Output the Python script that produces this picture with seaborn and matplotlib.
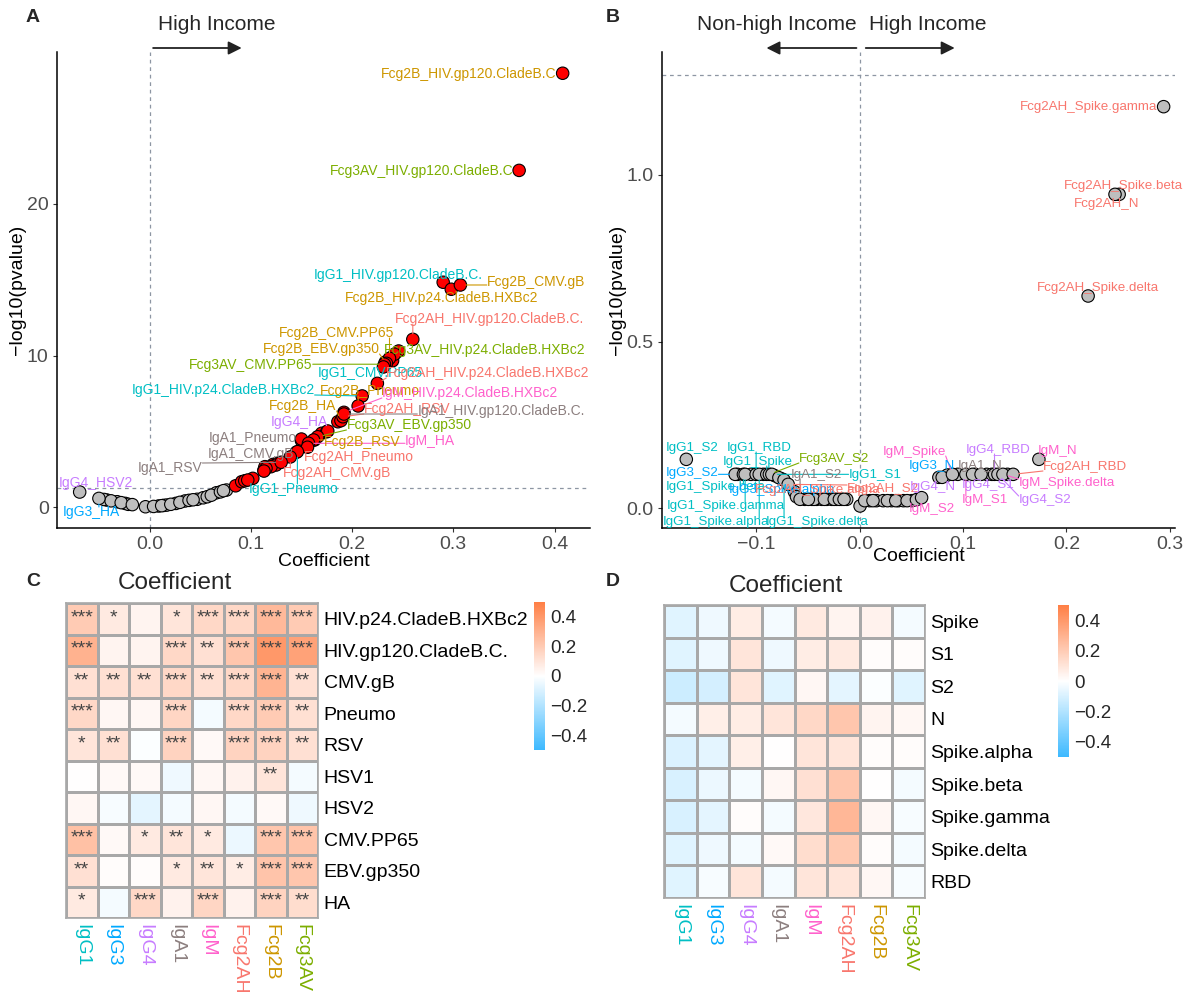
import matplotlib
matplotlib.use('Agg')

import numpy as np
import pandas as pd
import matplotlib.pyplot as plt
import seaborn as sns
from matplotlib.colors import LinearSegmentedColormap

# =========================
# DATA - PANEL A (volcano, all antigens)
# =========================
a_lab_names = ["Fcg2B_HIV.gp120.CladeB.C", "Fcg3AV_HIV.gp120.CladeB.C", "IgG1_HIV.gp120.CladeB.C.",
               "Fcg2B_HIV.p24.CladeB.HXBc2", "Fcg2B_CMV.gB", "Fcg2AH_HIV.gp120.CladeB.C.",
               "Fcg3AV_HIV.p24.CladeB.HXBc2", "Fcg2B_CMV.PP65", "Fcg2B_EBV.gp350", "Fcg3AV_CMV.PP65",
               "IgG1_CMV.PP65", "Fcg2AH_HIV.p24.CladeB.HXBc2", "IgG1_HIV.p24.CladeB.HXBc2", "Fcg2B_Pneumo",
               "IgM_HIV.p24.CladeB.HXBc2", "Fcg2B_HA", "Fcg2AH_RSV", "IgA1_HIV.gp120.CladeB.C.",
               "IgG4_HA", "Fcg3AV_EBV.gp350", "IgA1_Pneumo", "Fcg2B_RSV", "IgM_HA", "IgA1_CMV.gB",
               "Fcg2AH_Pneumo", "IgG1_Pneumo", "Fcg2AH_CMV.gB", "IgA1_RSV", "IgG4_HSV2", "IgG3_HA"]
a_lab_coef = [0.408, 0.365, 0.290, 0.298, 0.307, 0.260, 0.242, 0.237, 0.234, 0.232,
              0.231, 0.225, 0.210, 0.206, 0.192, 0.189, 0.191, 0.192, 0.176, 0.166,
              0.150, 0.162, 0.157, 0.145, 0.156, 0.146, 0.139, 0.130, -0.069, -0.050]
a_lab_nlp = [28.6, 22.2, 14.83, 14.37, 14.65, 11.07, 10.09, 9.82, 9.49, 9.43,
             9.25, 8.17, 7.34, 6.68, 6.26, 5.71, 5.97, 6.15, 5.03, 4.65,
             4.50, 4.44, 4.22, 3.63, 3.96, 3.67, 3.32, 2.97, 1.01, 0.59]
a_oth_coef = [0.085, 0.091, 0.094, 0.102, 0.113, 0.114, 0.122, 0.126, 0.125, 0.120, 0.115,
              0.113, 0.097, 0.155, 0.163, 0.170, 0.175, 0.186, 0.246, 0.240, 0.233, 0.150,
              -0.042, -0.032, -0.024, -0.021, -0.004, 0.009, 0.014, 0.017, 0.026, 0.035,
              0.047, 0.053, 0.057, 0.066, 0.076, -0.045, -0.038, -0.028, -0.017, 0.004,
              0.012, 0.021, 0.030, 0.039, 0.043, 0.061, 0.070, 0.073]
a_oth_nlp = [1.42, 1.69, 1.75, 1.91, 2.46, 2.68, 2.83, 2.90, 2.79, 2.68, 2.57,
             2.39, 1.80, 3.99, 4.44, 4.88, 4.98, 5.64, 10.3, 9.66, 9.58, 4.40,
             0.48, 0.37, 0.26, 0.20, 0.04, 0.09, 0.13, 0.15, 0.26, 0.42,
             0.53, 0.63, 0.70, 0.96, 1.14, 0.52, 0.43, 0.31, 0.18, 0.06,
             0.11, 0.20, 0.33, 0.46, 0.50, 0.80, 1.02, 1.10]

# =========================
# DATA - PANEL B (volcano, SARS-CoV-2 antigens)
# =========================
b_lab_names = ["Fcg2AH_Spike.gamma", "Fcg2AH_Spike.beta", "Fcg2AH_N", "Fcg2AH_Spike.delta",
               "IgG1_S2", "IgG3_S2", "IgG1_Spike.beta", "IgG1_Spike.gamma", "IgG1_RBD",
               "IgG1_Spike.alpha", "IgG1_Spike", "Fcg3AV_S2", "IgG1_S1", "IgG3_Spike.alpha",
               "IgG1_Spike.delta", "Fcg2AH_S2", "IgA1_S2", "Fcg2AH_Spike.alpha", "IgM_S2",
               "IgG4_N", "IgG3_N", "IgM_Spike", "IgM_S1", "IgA1_N", "IgG4_S1", "IgG4_RBD",
               "IgG4_S2", "IgM_Spike.delta", "Fcg2AH_RBD", "IgM_N"]
b_lab_coef = [0.294, 0.251, 0.247, 0.221, -0.1675, -0.1203, -0.1123, -0.1106, -0.100,
              -0.097, -0.0897, -0.0872, -0.0848, -0.078, -0.073, -0.069, -0.0575, -0.0495,
              0.060, 0.0767, 0.0799, 0.0898, 0.1028, 0.1093, 0.1175, 0.1305, 0.1338, 0.1386,
              0.1485, 0.1734]
b_lab_nlp = [1.205, 0.942, 0.942, 0.637, 0.147, 0.102, 0.102, 0.102, 0.102,
             0.102, 0.102, 0.102, 0.102, 0.092, 0.085, 0.072, 0.027, 0.027,
             0.032, 0.093, 0.093, 0.102, 0.102, 0.102, 0.102, 0.102, 0.102, 0.102,
             0.102, 0.147]
b_oth_coef = [-0.0462, -0.0414, -0.0365, -0.0317, -0.0269, -0.0220, -0.0172, -0.0124, 0.0005,
              0.0098, 0.0163, 0.0228, 0.031, 0.0375, 0.0424, 0.0505,
              -0.053, -0.044, -0.034, -0.0245, -0.0195, -0.015,
              0.005, 0.013, 0.027, 0.035, 0.046, 0.055,
              -0.118, -0.105, -0.093, -0.082, -0.075,
              0.095, 0.112, 0.123, 0.128, 0.143,
              -0.063, 0.085, -0.061]
b_oth_nlp = [0.027, 0.027, 0.027, 0.027, 0.027, 0.027, 0.027, 0.027, 0.007,
             0.023, 0.023, 0.023, 0.023, 0.023, 0.023, 0.023,
             0.027, 0.027, 0.027, 0.027, 0.027, 0.027,
             0.023, 0.023, 0.023, 0.023, 0.023, 0.026,
             0.102, 0.102, 0.102, 0.098, 0.088,
             0.102, 0.102, 0.102, 0.102, 0.102,
             0.050, 0.100, 0.035]

# =========================
# DATA - PANEL C / D (heatmaps)
# =========================
features = ["IgG1", "IgG3", "IgG4", "IgA1", "IgM", "Fcg2AH", "Fcg2B", "Fcg3AV"]

c_rows = ["HIV.p24.CladeB.HXBc2", "HIV.gp120.CladeB.C.", "CMV.gB", "Pneumo", "RSV",
          "HSV1", "HSV2", "CMV.PP65", "EBV.gp350", "HA"]
c_coef = [
    [0.20, 0.08, 0.04, 0.10, 0.15, 0.15, 0.27, 0.20],
    [0.30, 0.04, 0.04, 0.15, 0.12, 0.22, 0.40, 0.36],
    [0.12, 0.12, 0.12, 0.15, 0.12, 0.15, 0.29, 0.12],
    [0.15, 0.03, 0.03, 0.16, -0.03, 0.15, 0.20, 0.12],
    [0.10, 0.12, -0.01, 0.17, 0.02, 0.17, 0.17, 0.12],
    [0.00, 0.02, 0.02, -0.04, 0.03, 0.05, 0.10, -0.03],
    [0.03, -0.02, -0.07, -0.03, 0.03, -0.03, 0.02, -0.04],
    [0.24, 0.02, 0.08, 0.10, 0.08, -0.05, 0.22, 0.23],
    [0.12, 0.01, 0.01, 0.08, 0.10, 0.07, 0.23, 0.22],
    [0.08, -0.03, 0.15, 0.05, 0.16, 0.05, 0.17, 0.13],
]
c_stars = [
    ["***", "*", "", "*", "***", "***", "***", "***"],
    ["***", "", "", "***", "**", "***", "***", "***"],
    ["**", "**", "**", "***", "**", "***", "***", "**"],
    ["***", "", "", "***", "", "***", "***", "**"],
    ["*", "**", "", "***", "", "***", "***", "**"],
    ["", "", "", "", "", "", "**", ""],
    ["", "", "", "", "", "", "", ""],
    ["***", "", "*", "**", "*", "", "***", "***"],
    ["**", "", "", "*", "**", "*", "***", "***"],
    ["*", "", "***", "", "***", "", "***", "**"],
]

d_rows = ["Spike", "S1", "S2", "N", "Spike.alpha", "Spike.beta", "Spike.gamma", "Spike.delta", "RBD"]
d_coef = [
    [-0.08, -0.04, 0.07, -0.03, 0.08, 0.04, 0.05, -0.03],
    [-0.08, -0.04, 0.10, -0.04, 0.07, 0.08, 0.01, 0.01],
    [-0.13, -0.11, 0.10, -0.08, 0.03, -0.07, -0.01, -0.08],
    [-0.03, 0.06, 0.07, 0.10, 0.15, 0.22, 0.04, 0.03],
    [-0.09, -0.07, 0.06, 0.00, 0.10, 0.10, 0.01, 0.01],
    [-0.10, -0.05, -0.03, 0.03, 0.12, 0.22, 0.00, -0.03],
    [-0.10, -0.07, 0.01, -0.03, 0.09, 0.28, 0.03, -0.02],
    [-0.08, -0.04, -0.03, 0.02, 0.13, 0.21, 0.01, -0.03],
    [-0.08, -0.02, 0.10, -0.03, 0.10, 0.10, 0.03, -0.02],
]
cbar_ticks = [-0.4, -0.2, 0, 0.2, 0.4]
cbar_labels = ["\u22120.4", "\u22120.2", "0", "0.2", "0.4"]

# =========================
# STYLE / LAYOUT
# =========================
feat_colors = {"IgG1": "#00BFC4", "IgG3": "#00A9FF", "IgG4": "#C77CFF", "IgA1": "#8C7F7F",
               "IgM": "#FF61CC", "Fcg2AH": "#F8766D", "Fcg2B": "#CD9600", "Fcg3AV": "#7CAE00"}

# label centres in figure pixels (origin top-left), as placed in the reference
a_label_pos = {
    "Fcg2B_HIV.gp120.CladeB.C": (469, 74), "Fcg3AV_HIV.gp120.CladeB.C": (422, 171),
    "IgG1_HIV.gp120.CladeB.C.": (398, 275), "Fcg2B_CMV.gB": (536, 282),
    "Fcg2B_HIV.p24.CladeB.HXBc2": (442, 298), "Fcg2AH_HIV.gp120.CladeB.C.": (490, 319),
    "Fcg2B_CMV.PP65": (337, 333), "Fcg2B_EBV.gp350": (321, 349),
    "Fcg3AV_HIV.p24.CladeB.HXBc2": (485, 350), "Fcg3AV_CMV.PP65": (251, 365),
    "IgG1_CMV.PP65": (370, 373), "Fcg2AH_HIV.p24.CladeB.HXBc2": (488, 373),
    "IgG1_HIV.p24.CladeB.HXBc2": (223, 390), "Fcg2B_Pneumo": (370, 391),
    "IgM_HIV.p24.CladeB.HXBc2": (470, 393), "Fcg2B_HA": (303, 406),
    "Fcg2AH_RSV": (407, 409), "IgA1_HIV.gp120.CladeB.C.": (501, 411),
    "IgG4_HA": (299, 422), "Fcg3AV_EBV.gp350": (409, 425), "IgA1_Pneumo": (253, 438),
    "Fcg2B_RSV": (362, 442), "IgM_HA": (430, 441), "IgA1_CMV.gB": (251, 454),
    "Fcg2AH_Pneumo": (359, 457), "IgG1_Pneumo": (294, 489), "Fcg2AH_CMV.gB": (337, 473),
    "IgA1_RSV": (170, 468), "IgG4_HSV2": (96, 483), "IgG3_HA": (91, 512),
}
b_label_pos = {
    "Fcg2AH_Spike.gamma": (1089, 107), "Fcg2AH_Spike.beta": (1123, 186),
    "Fcg2AH_N": (1107, 204), "Fcg2AH_Spike.delta": (1098, 288),
    "IgG1_S2": (692, 448), "IgG1_RBD": (759, 448), "IgG1_Spike": (758, 462),
    "Fcg3AV_S2": (834, 459), "IgG3_S2": (692, 473), "IgA1_S2": (816, 475),
    "IgG1_S1": (875, 475), "IgG1_Spike.beta": (716, 487), "IgG3_Spike.alpha": (782, 490),
    "Fcg2AH_Spike.alpha": (818, 490), "Fcg2AH_S2": (883, 489), "IgG1_Spike.gamma": (726, 506),
    "IgG1_Spike.alpha": (716, 522), "IgG1_Spike.delta": (817, 522),
    "IgM_Spike": (914, 452), "IgG4_RBD": (998, 450), "IgM_N": (1058, 451),
    "IgG3_N": (932, 466), "IgA1_N": (980, 466), "Fcg2AH_RBD": (1085, 467),
    "IgG4_N": (933, 487), "IgG4_S1": (988, 485), "IgM_Spike.delta": (1067, 483),
    "IgM_S1": (985, 500), "IgG4_S2": (1045, 500), "IgM_S2": (932, 509),
}

sns.set_theme(style="white")
plt.rcParams['font.family'] = ['Liberation Sans', 'DejaVu Sans']
plt.rcParams['axes.unicode_minus'] = True

W, H = 1188, 993
fig = plt.figure(figsize=(W / 100, H / 100), dpi=100)
renderer = fig.canvas.get_renderer()


def rect(l, t, r, b):
    return [l / W, 1 - b / H, (r - l) / W, (b - t) / H]


dash_col = '#8D96A3'


def volcano(ax, lab_names, lab_coef, lab_nlp, oth_coef, oth_nlp, label_pos,
            xlim, ylim, xticks, yticks, xtl, ytl, lab_size):
    df = pd.DataFrame({
        'coef': list(oth_coef) + list(lab_coef),
        'nlp': list(oth_nlp) + list(lab_nlp),
    })
    df['sig'] = np.where(df['nlp'] > -np.log10(0.05), 'sig', 'ns')
    df = df.sort_values('sig', key=lambda s: s == 'sig', kind='stable')

    ax.set_xlim(*xlim)
    ax.set_ylim(*ylim)
    ax.axvline(0, color=dash_col, ls=(0, (3, 3)), lw=0.9, zorder=0)
    ax.axhline(-np.log10(0.05), color=dash_col, ls=(0, (3, 3)), lw=0.9, zorder=0)
    sns.scatterplot(data=df, x='coef', y='nlp', hue='sig',
                    palette={'ns': '#BEBEBE', 'sig': '#FF0000'},
                    edgecolor='black', linewidth=0.8, s=80, legend=False, ax=ax, zorder=3)

    ax.set_xticks(xticks)
    ax.set_xticklabels(xtl)
    ax.set_yticks(yticks)
    ax.set_yticklabels(ytl)
    ax.tick_params(axis='both', bottom=True, left=True, length=3, width=0.8,
                   color='#333333', labelsize=14, labelcolor='#4D4D4D', pad=3)
    for s in ['top', 'right']:
        ax.spines[s].set_visible(False)
    for s in ['left', 'bottom']:
        ax.spines[s].set_color('black')
        ax.spines[s].set_linewidth(1.1)

    # repel-style labels with connector segments
    for n, c, v in zip(lab_names, lab_coef, lab_nlp):
        col = feat_colors[n.split('_')[0]]
        px, py = label_pos[n]
        t = ax.annotate(n, xy=(c, v), xytext=(px, H - py), textcoords='figure pixels',
                        ha='center', va='center', fontsize=lab_size, color=col,
                        annotation_clip=False, zorder=5)
        bb = t.get_window_extent(renderer)
        ppx, ppy = ax.transData.transform((c, v))
        nx = min(max(ppx, bb.x0), bb.x1)
        ny = min(max(ppy, bb.y0 + 2), bb.y1 - 2)
        if np.hypot(ppx - nx, ppy - ny) > 8:
            ax.annotate('', xy=(c, v), xytext=(nx, ny), textcoords='figure pixels',
                        annotation_clip=False, zorder=4,
                        arrowprops=dict(arrowstyle='-', color=col, lw=0.8,
                                        shrinkA=0, shrinkB=4))


# =========================
# PANEL A
# =========================
axA = fig.add_axes(rect(57, 52, 590, 528))
volcano(axA, a_lab_names, a_lab_coef, a_lab_nlp, a_oth_coef, a_oth_nlp, a_label_pos,
        (-0.0914, 0.435), (-1.36, 30.0), [0.0, 0.1, 0.2, 0.3, 0.4], [0, 10, 20],
        ["0.0", "0.1", "0.2", "0.3", "0.4"], ["0", "10", "20"], 10)
axA.set_xlabel('Coefficient', fontsize=14, color='black')
axA.set_ylabel('\u2212log10(pvalue)', fontsize=14, color='black')
axA.xaxis.set_label_coords(0.5, -0.052)
axA.yaxis.set_label_coords(-0.058, 0.5)
axA.annotate('', xy=(0.091, H - 48), xycoords=('data', 'figure pixels'),
             xytext=(0.0035, H - 48), textcoords=('data', 'figure pixels'),
             annotation_clip=False,
             arrowprops=dict(arrowstyle='-|>', color='#222222', lw=1.3, mutation_scale=20,
                             shrinkA=0, shrinkB=0))
axA.annotate('High Income', xy=(0.0085, H - 25), xycoords=('data', 'figure pixels'),
             ha='left', va='center', fontsize=15, annotation_clip=False)

# =========================
# PANEL B
# =========================
axB = fig.add_axes(rect(662, 52, 1175, 528))
volcano(axB, b_lab_names, b_lab_coef, b_lab_nlp, b_oth_coef, b_oth_nlp, b_label_pos,
        (-0.191, 0.305), (-0.059, 1.369), [-0.1, 0.0, 0.1, 0.2, 0.3], [0.0, 0.5, 1.0],
        ["\u22120.1", "0.0", "0.1", "0.2", "0.3"], ["0.0", "0.5", "1.0"], 9.6)
axB.set_xlabel('Coefficient', fontsize=14, color='black')
axB.set_ylabel('\u2212log10(pvalue)', fontsize=14, color='black')
axB.xaxis.set_label_coords(0.5, -0.042)
axB.yaxis.set_label_coords(-0.07, 0.5)
for x0, x1 in [(-0.003, -0.090), (0.006, 0.092)]:
    axB.annotate('', xy=(x1, H - 48), xycoords=('data', 'figure pixels'),
                 xytext=(x0, H - 48), textcoords=('data', 'figure pixels'),
                 annotation_clip=False,
                 arrowprops=dict(arrowstyle='-|>', color='#222222', lw=1.3, mutation_scale=20,
                                 shrinkA=0, shrinkB=0))
axB.annotate('Non-high Income', xy=(-0.003, H - 25), xycoords=('data', 'figure pixels'),
             ha='right', va='center', fontsize=15, annotation_clip=False)
axB.annotate('High Income', xy=(0.009, H - 25), xycoords=('data', 'figure pixels'),
             ha='left', va='center', fontsize=15, annotation_clip=False)

# =========================
# HEATMAPS C / D
# =========================
cmap = LinearSegmentedColormap.from_list('coef', ['#3DB9FF', '#FFFFFF', '#FF7F45'])


def coef_heatmap(ax, cax, values, rows, stars, title_xy):
    df = pd.DataFrame(values, index=rows, columns=features)
    kw = {}
    if stars is not None:
        kw = dict(annot=np.array(stars), fmt='',
                  annot_kws={'color': '#444444', 'fontsize': 14})
    sns.heatmap(df, ax=ax, cbar_ax=cax, cmap=cmap, vmin=-0.5, vmax=0.5,
                linewidths=1.0, linecolor='#A8A8A8', **kw)
    # stars sit a little above the cell centre, as in the reference
    for t in ax.texts:
        t.set_y(t.get_position()[1] - 0.04)
    for s in ax.spines.values():
        s.set_visible(True)
        s.set_color('#A8A8A8')
        s.set_linewidth(1.2)
    ax.yaxis.tick_right()
    ax.tick_params(axis='both', length=0, labelsize=14, pad=4)
    ax.set_yticklabels(rows, rotation=0, color='black')
    ax.set_xticklabels(features, rotation=-90, va='top')
    for lab in ax.get_xticklabels():
        lab.set_color(feat_colors[lab.get_text()])
    ax.set_xlabel('')
    ax.set_ylabel('')
    cbar = ax.collections[0].colorbar
    cbar.set_ticks(cbar_ticks)
    cbar.set_ticklabels(cbar_labels)
    cbar.outline.set_visible(False)
    cax.tick_params(length=0, labelsize=13.5, pad=4)
    fig.text(title_xy[0] / W, 1 - title_xy[1] / H, 'Coefficient', fontsize=17.5,
             ha='center', va='center')


axC = fig.add_axes(rect(66, 603, 318, 918))
caxC = fig.add_axes(rect(534, 602, 545, 750))
coef_heatmap(axC, caxC, c_coef, c_rows, c_stars, (175, 583))

axD = fig.add_axes(rect(664, 605, 925, 898))
caxD = fig.add_axes(rect(1058, 605, 1069, 757))
coef_heatmap(axD, caxD, d_coef, d_rows, None, (786, 586))

# panel letters
for lab, (px, py) in {"A": (33, 18), "B": (613, 17), "C": (33, 581), "D": (613, 582)}.items():
    fig.text(px / W, 1 - py / H, lab, fontsize=14, fontweight='bold', ha='center', va='center')

fig.savefig('out.png', dpi=100)
